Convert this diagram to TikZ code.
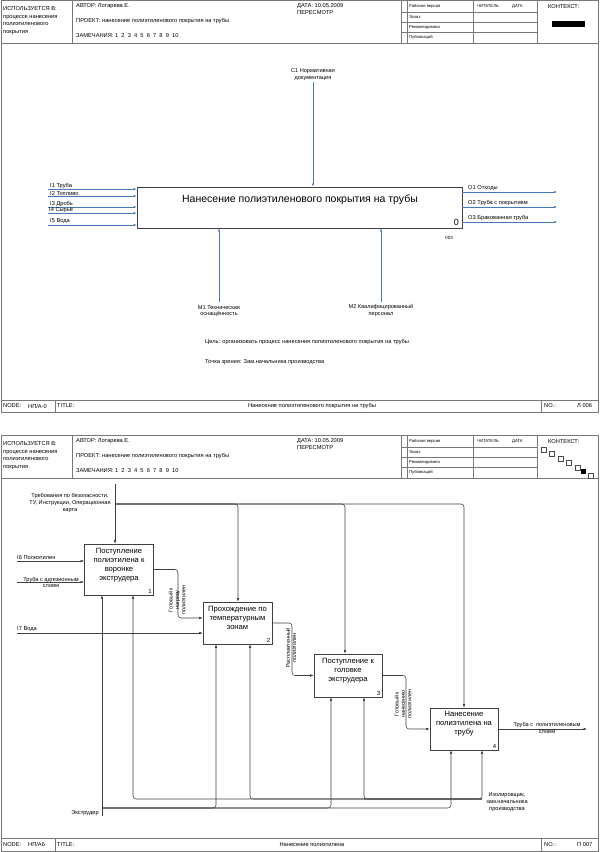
\documentclass[tikz,border=0pt]{standalone}
\usepackage{fontspec}
\setmainfont{Liberation Sans}
\usetikzlibrary{arrows.meta}
\usetikzlibrary{positioning}
\definecolor{arrblue}{RGB}{70,120,190}
\definecolor{framegray}{RGB}{120,120,120}

\begin{document}
\begin{tikzpicture}[x=1pt,y=-1pt,
  frame/.style={draw=framegray,line width=0.7pt},
  txt/.style={inner sep=0pt,anchor=west,font=\fontsize{5.7}{6.7}\selectfont},
  tinytxt/.style={inner sep=0pt,anchor=west,font=\fontsize{4.2}{5}\selectfont},
  lbl/.style={inner sep=0pt,align=center,font=\fontsize{5.6}{6.7}\selectfont},
  vlbl/.style={inner sep=0pt,align=center,rotate=90,font=\fontsize{5.4}{6.4}\selectfont},
  topbox/.style={draw=black!75,line width=0.7pt,minimum width=325pt,minimum height=41pt,inner sep=0pt},
  actbox/.style={draw=black!75,line width=0.6pt,minimum width=69pt,minimum height=42pt,inner sep=0pt},
  acttxt/.style={inner sep=0pt,align=center,font=\fontsize{7.6}{9}\selectfont},
  boxno/.style={inner sep=0pt,anchor=south east,font=\fontsize{6}{7}\selectfont},
  blue arrow/.style={draw=arrblue,line width=0.65pt,-{Latex[length=3pt,width=2.4pt]}},
  gray arrow/.style={draw=black!75,line width=0.55pt,rounded corners=3pt,-{Latex[length=3.5pt,width=2.6pt]}},
]
\useasboundingbox (0,0) rectangle (600,852);

% frames and headers of both sheets
\foreach \oy/\ft/\fb in {0/400/412,435/838/851}{
  \draw[frame] (1,\oy+0.5) rectangle (598.5,\oy+43);
  \draw[frame] (72,\oy+0.5) -- (72,\oy+43);
  \foreach \x in {401,407,473,537}
    \draw[frame] (\x,\oy+0.5) -- (\x,\oy+43);
  \foreach \y in {12,22,32}
    \draw[frame] (401,\oy+\y) -- (537,\oy+\y);
  \draw[frame] (1,\oy+43) -- (1,\ft) (598.5,\oy+43) -- (598.5,\ft);
  \draw[frame] (1,\ft) rectangle (598.5,\fb);
  \draw[frame] (55,\ft) -- (55,\fb) (541,\ft) -- (541,\fb);
  \node[txt,anchor=north west,align=left,font=\fontsize{5.7}{7.6}\selectfont] (used\oy) at (3,\oy+6.5)
    {ИСПОЛЬЗУЕТСЯ В:\\процессе нанесения\\полиэтиленового\\покрытия};
  \node[txt] (author\oy) at (76,\oy+6) {АВТОР: Лотарева Е.};
  \node[txt] (project\oy) at (76,\oy+21) {ПРОЕКТ: нанесение полиэтиленового покрытия на трубы};
  \node[txt] (notes\oy) at (76,\oy+36) {ЗАМЕЧАНИЯ: 1\ \ 2\ \ 3\ \ 4\ \ 5\ \ 6\ \ 7\ \ 8\ \ 9\ \ 10};
  \node[txt] (date\oy) at (297,\oy+6) {ДАТА: 10.05.2009};
  \node[txt] (review\oy) at (297,\oy+13) {ПЕРЕСМОТР};
  \node[tinytxt] (work\oy) at (409,\oy+6) {Рабочая версия};
  \node[tinytxt] (draft\oy) at (409,\oy+17) {Эскиз};
  \node[tinytxt] (recom\oy) at (409,\oy+27) {Рекомендовано};
  \node[tinytxt] (publ\oy) at (409,\oy+37.5) {Публикаций};
  \node[tinytxt] (reader\oy) at (477,\oy+6) {ЧИТАТЕЛЬ};
  \node[tinytxt] (rdate\oy) at (512,\oy+6) {ДАТА};
  \node[txt] (context\oy) at (548,\oy+6.5) {КОНТЕКСТ:};
}
\fill[black] (552,21) rectangle (585,27);
\foreach \cx/\cy in {541/447,549.5/451.5,558/456,566.5/460.5,575/465,588/473}
  \draw[black!70,line width=0.4pt] (\cx,\cy) rectangle +(5,5);
\fill[black] (580.5,469) rectangle +(5,5);

% footers
\node[txt] (nodeA) at (3,406) {NODE:};
\node[txt] (nodeAv) at (28,406) {НП/А-0};
\node[txt] (titleA) at (57,406) {TITLE:};
\node[txt,anchor=center] (titleAv) at (312,406) {Нанесение полиэтиленового покрытия на трубы};
\node[txt] (noA) at (544,406) {NO.:};
\node[txt] (noAv) at (577,406) {Л 006};
\node[txt] (nodeB) at (3,844.5) {NODE:};
\node[txt] (nodeBv) at (28,844.5) {НП/А6};
\node[txt] (titleB) at (57,844.5) {TITLE:};
\node[txt,anchor=center] (titleBv) at (312,844.5) {Нанесение полиэтилена};
\node[txt] (noB) at (544,844.5) {NO.:};
\node[txt] (noBv) at (577,844.5) {П 007};

% sheet 1: context diagram A-0
\node[topbox] (a0) at (299.5,207.5) {};
\node[inner sep=0pt,font=\fontsize{10.5}{12}\selectfont] (a0t) at (300,200) {Нанесение полиэтиленового покрытия на трубы};
\node[inner sep=0pt,anchor=south east,font=\fontsize{9}{10}\selectfont] (a0n) at (459,226) {0};
\node[txt,font=\fontsize{4.6}{5}\selectfont] (a0c) at (445,238) {003};
\coordinate (i1) at (48,189);
\coordinate (i2) at (48,196);
\coordinate (i3) at (48,207);
\coordinate (i4) at (48,213);
\coordinate (i5) at (48,225);
\draw[blue arrow] (i1) -- (i1 -| a0.west);
\draw[blue arrow] (i2) -- (i2 -| a0.west);
\draw[blue arrow] (i3) -- (i3 -| a0.west);
\draw[blue arrow] (i4) -- (i4 -| a0.west);
\draw[blue arrow] (i5) -- (i5 -| a0.west);
\node[txt,anchor=south west] (i1l) at (50,188.5) {I1 Труба};
\node[txt,anchor=south west] (i2l) at (50,195.5) {I2 Топливо};
\node[txt,anchor=south west] (i3l) at (50,206.5) {I3 Дробь};
\node[txt,anchor=south west] (i4l) at (49,212.5) {I4 Сырьё};
\node[txt,anchor=south west] (i5l) at (50,223.5) {I5 Вода};
\coordinate (o1) at (557,192);
\coordinate (o2) at (557,207);
\coordinate (o3) at (557,222);
\draw[blue arrow] (o1 -| a0.east) -- (o1);
\draw[blue arrow] (o2 -| a0.east) -- (o2);
\draw[blue arrow] (o3 -| a0.east) -- (o3);
\node[txt,anchor=south west] (o1l) at (468,191) {O1 Отходы};
\node[txt,anchor=south west] (o2l) at (468,206) {O2 Труба с покрытием};
\node[txt,anchor=south west] (o3l) at (468,221) {O3 Бракованная труба};
\coordinate (c1) at (313,82);
\draw[blue arrow] (c1) -- (c1 |- a0.north);
\node[lbl,above=1.5pt of c1] (c1l) {C1 Нормативная\\документация};
\coordinate (m1) at (219,302);
\coordinate (m2) at (381,302);
\draw[blue arrow] (m1) -- (m1 |- a0.south);
\draw[blue arrow] (m2) -- (m2 |- a0.south);
\node[lbl,below=3pt of m1] (m1l) {M1 Техническая\\оснащённость};
\node[lbl,below=2pt of m2] (m2l) {M2 Квалифицированный\\персонал};
\node[txt] (goal) at (205,342) {Цель: организовать процесс нанесения полиэтиленового покрытия на трубы};
\node[txt] (view) at (205,362) {Точка зрения: Зам.начальника производства};

% sheet 2: decomposition A0
\node[actbox,minimum height=51pt] (b1) at (119,569.5) {};
\node[actbox] (b2) at (237.5,623) {};
\node[actbox,minimum width=68pt,minimum height=43pt] (b3) at (348,675.5) {};
\node[actbox,minimum width=68pt] (b4) at (464,729) {};
\node[acttxt] (b1t) at (119,565) {Поступление\\полиэтилена к\\воронке\\экструдера};
\node[acttxt] (b2t) at (237.5,617.5) {Прохождение по\\температурным\\зонам};
\node[acttxt] (b3t) at (348,670.5) {Поступление к\\головке\\экструдера};
\node[acttxt] (b4t) at (464,723.5) {Нанесение\\полиэтилена на\\трубу};
\node[boxno] (b1n) at ([xshift=-2pt,yshift=1.5pt]b1.south east) {1};
\node[boxno] (b2n) at ([xshift=-2pt,yshift=1.5pt]b2.south east) {2};
\node[boxno] (b3n) at ([xshift=-2pt,yshift=1.5pt]b3.south east) {3};
\node[boxno] (b4n) at ([xshift=-2pt,yshift=1.5pt]b4.south east) {4};
% inputs
\coordinate (i6) at (17,561);
\coordinate (tr) at (17,582);
\coordinate (i7) at (17,633);
\draw[gray arrow] (i6) -- (i6 -| b1.west);
\draw[gray arrow] (tr) -- (tr -| b1.west);
\draw[gray arrow] (i7) -- (i7 -| b2.west);
\node[txt,anchor=south west] (i6l) at (17,559.5) {I6 Полиэтилен};
\node[lbl] (trl) at (51,582.5) {Труба с адгезионным\\слоем};
\node[txt,anchor=south west] (i7l) at (17,631.5) {I7 Вода};
% outputs between the blocks
\coordinate (r1) at (178,618);
\coordinate (r2) at (292,675.5);
\coordinate (r3) at (406,729);
\draw[gray arrow] (b1.east) -- (b1.east -| r1) -- (r1) -- (r1 -| b2.west);
\draw[gray arrow] (b2.east) -- (b2.east -| r2) -- (r2) -- (r2 -| b3.west);
\draw[gray arrow] (b3.east) -- (b3.east -| r3) -- (r3) -- (r3 -| b4.west);
\node[vlbl] (r1l) at (177,600) {Готовый к\\нагреву\\полиэтилен};
\node[vlbl] (r2l) at (291,648) {Расплавленный\\полиэтилен};
\node[vlbl] (r3l) at (403,704) {Готовый к\\нанесению\\полиэтилен};
\coordinate (o4) at (587,729);
\draw[gray arrow] (b4.east) -- (o4);
\node[lbl] (o4l) at (547,728) {Труба с\ \ полиэтиленовым\\слоем};
% controls
\coordinate (ct) at (115,484);
\coordinate (ctj) at (115,504);
\coordinate (k2) at (238,504);
\coordinate (k3) at (345,504);
\coordinate (k4) at (464,504);
\draw[gray arrow] (ct) -- (ct |- b1.north);
\draw[gray arrow] (ctj) -- (k2) -- (k2 |- b2.north);
\draw[gray arrow] (ctj) -- (k3) -- (k3 |- b3.north);
\draw[gray arrow] (ctj) -- (k4) -- (k4 |- b4.north);
\node[lbl] (ctl) at (70,503) {Требования по безопасности,\\ТУ, Инструкции, Операционная\\карта};
% mechanisms
\coordinate (ex) at (102,816);
\coordinate (exj) at (102,808);
\coordinate (e2) at (216,808);
\coordinate (e3) at (331,808);
\coordinate (e4) at (451,808);
\draw[gray arrow] (ex) -- (ex |- b1.south);
\draw[gray arrow] (exj) -- (e2) -- (e2 |- b2.south);
\draw[gray arrow] (exj) -- (e3) -- (e3 |- b3.south);
\draw[gray arrow] (exj) -- (e4) -- (e4 |- b4.south);
\node[txt,anchor=east] (exl) at (99,813) {Экструдер};
\coordinate (is) at (482,799);
\coordinate (s1) at (133,799);
\coordinate (s2) at (250,799);
\coordinate (s3) at (364,799);
\draw[gray arrow] (is) -- (s1) -- (s1 |- b1.south);
\draw[gray arrow] (is) -- (s2) -- (s2 |- b2.south);
\draw[gray arrow] (is) -- (s3) -- (s3 |- b3.south);
\draw[gray arrow] (s3) -- (is) -- (is |- b4.south);
\node[lbl] (isl) at (507,802) {Изолировщик,\\зам.начальника\\производства};
\end{tikzpicture}
\end{document}
